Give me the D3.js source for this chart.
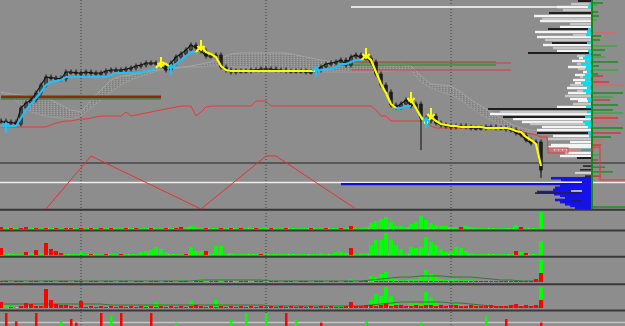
<!DOCTYPE html>
<html><head><meta charset="utf-8">
<script src="https://cdn.jsdelivr.net/npm/d3@7"></script>
<style>html,body{margin:0;padding:0;background:#8d8d8d;overflow:hidden}svg{display:block}</style>
</head><body><svg id="c" width="625" height="326"></svg>
<script>
// ---------------- DATA ----------------
const closes = [79,77,78,76,92,97,100,107,115,123,122,122,121,128,128,127,127,128,127,127,127,129,130,130,130,131,132,134,135,137,137,137,134,130,137,143,146,150,155,152,149,144,144,145,133,130,128,129,129,129,130,130,131,131,131,130,130,129,129,129,129,128,128,130,133,136,137,138,140,135,143,145,142,142,138,126,115,108,95,93,96,100,94,96,82,79,84,77,75,74,73,74,74,73,72,72,72,73,73,72,72,71,70,67,65,60,57,58,30];
const longWicks = [[84,50],[108,22]];
const N=null;
const trendUp = [74,74,74,74,82,90,96,102,108,115,118,119,120,123,123,123,123,123,123,123,123,123,125,127,127,127,127,127,127,129,130,132,N,N,132,136,140,144,148,148,N,N,N,N,N,N,N,N,N,N,N,N,N,N,N,N,N,N,N,N,N,N,N,129,130,131,131,133,136,136,138,140,140,N,N,N,N,N,N,92,92,94,94,N,83,76,N,N,N,N,N,N,N,N,N,N,N,N,N,N,N,N,N,N,N,N,N,N,N];
const trendDown = [N,N,N,N,N,N,N,N,N,N,N,N,N,N,N,N,N,N,N,N,N,N,N,N,N,N,N,N,N,N,N,132,138,136,132,N,N,N,N,148,154,148,146,143,134,130,129,129,129,129,129,129,129,129,129,129,129,129,129,129,129,129,129,129,N,N,N,N,N,N,N,N,140,144,140,128,116,107,96,92,N,N,100,92,83,76,83,79,76,75,74,74,73,73,73,73,73,72,72,72,72,72,71,69,68,63,60,56,34];
const stopLine = [73,73,73,73,73,73,73,73,73,73,75,77,78,79,79,80,81,81,82,83,84,84,84,84,84,88,84,85,86,87,88,89,90,91,92,93,94,94,94,84,88,93,94,94,94,94,94,94,94,94,94,99,99,99,94,94,94,94,94,94,94,94,94,94,94,94,94,94,94,94,94,94,94,94,94,90,84,84,79,79,79,79,79,79,79,79,74,72,72,72,72,72,72,72,72,72,72,72,72,72,72,72,71,70,69,67,66,65,63];
const stopTail = [[108,63],[109.2,63],[109.4,52]];
const boxRange = [109.4,113.4,47,52];
const boxTail = [[113.4,50],[118.4,50],[118.4,53],[119.8,53],[119.8,20],[125,20]];
// cloud: one value every 2 bars
const spanA = [108,106,105,104,102,100,95,90,88,100,110,120,124,125,127,129,131,132,133,134,136,138,142,146,147,147,147,147,147,146,144,142,140,138,137,137,136,136,136,135,136,134,124,116,115,114,108,100,94,88,82,76,72,70,69];
const spanB = [107,103,95,88,85,83,82,81,84,92,100,108,115,120,124,127,130,131,132,133,133,134,134,133,133,132,131,131,130,130,129,129,128,128,128,128,128,128,129,129,130,130,118,112,108,105,100,92,85,80,75,70,69,68,67];
const buyIdx = [1,34,63,85], buyPx = [77,135,133,82];
const sellIdx = [32,40,73,82,86], sellPx = [133,150,142,98,82];
const lvlPx   = [103,101,138,137,135,130,193];
const lvlFrom = [0,0,67,70,67,70,70];
const lvlTo   = [32,32,99,102,99,102,111.2];
const lvlKind = ['pivot','pivotBase','support','resistance','support','resistance','high'];
const gridIdx = [16,53,90];
// volume profile (price, volume)
const profWhite = [[193,34],[184,57],[179,51],[173,31],[168,56],[163,54],[155,48],[149,34],[142,12],[139,19],[133,23],[128,8],[125,16],[120,18],[117,16],[112,24],[107,23],[101,21],[99,13],[93,34],[86,101],[81,78],[78,69],[73,49],[70,54],[64,38],[58,21],[55,40],[53,43],[47,26],[44,31]];
const profSilver = [[196,20],[190,28],[181,49],[176,21],[165,18],[160,46],[152,38],[144,14],[136,14],[131,13],[123,11],[115,21],[109,14],[104,26],[96,18],[88,91],[76,61],[61,43],[50,38]];
const profBlack = [[199,13],[187,42],[171,43],[157,39],[147,63],[91,103],[83,88],[67,54],[42,14]];
const profCyan = [[196,2],[193,3],[171,3],[168,4],[165,5],[157,4],[149,3],[147,2],[144,6],[142,8],[139,6],[136,10],[133,5],[131,6],[128,4],[125,6],[123,8],[120,6],[117,10],[115,8],[112,4],[109,8],[107,5],[101,4],[99,3],[93,5],[88,4],[83,6],[78,8],[76,6],[73,3],[67,3],[64,2],[50,10]];
// lower profile (oscillator levels, volume)
const profBlue = [[58,40],[55,30],[43,31],[40,36],[36,38],[32,54],[28,37],[25,31],[21,26],[17,36],[13,31],[9,26],[6,21],[2,16]];
const profBlueDark = [[81,8],[74,11],[62,6],[30,56],[15,20]];
const profBlueWhite = [[68,16],[34,20]];
// right strip (price, delta)
const stripBuy = [[197,10],[195,4],[188,5],[184,6],[180,4],[164,8],[160,7],[154,24],[150,12],[145,8],[143,12],[138,25],[134,6],[130,25],[126,5],[107,30],[103,20],[95,25],[90,20],[87,30],[72,30],[63,18],[45,8]];
const stripSell = [[167,22],[124,10],[120,8],[118,16],[115,30],[100,17],[84,20],[82,25],[78,25],[67,28],[60,10],[55,8],[52,5],[40,5]];
// zigzag oscillator
const zzIdx = [9,18,40,53,55,71], zzVal = [0,100,0,100,100,0];
const oscMid = 50, oscBlue = [47,68,118], oscBuyLvl=[[79,12],[70,20]], oscSellLvl=[[62,8]];
const oscFloor = [4,118.2,125];
// histogram panels (positive = buy volume, negative = sell volume)
const hist1 = [-2,1,-1,1,-1,-2,1,-1,1,-1, 1,-1,1,-1,-1,1,-1,1,-1,1, -1,1,-1,1,1,-1,1,-1,1,1, -1,1,1,-1,1,-1,-2,2,3,2, 1,-1,1,1,-1,1,-1,1,-1,1, 1,-1,1,1,-1,1,1,-1,1,1, 1,1,-1,1,1,-1,1,1,-1,1, -3,1,1,2,6,8,10,12,7,3, 3,2,5,7,13,9,6,4,3,3, 2,2,-2,3,2,1,1,1,1,1, 1,1,1,4,-2,1,1,1,17];
const hist2 = [-7,2,2,1,1,-3,2,-5,2,-12, -6,-4,-2,1,1,1,3,1,-1,1, 1,-1,1,1,-1,1,1,1,3,4, 5,8,6,2,1,1,1,-1,8,4, 4,-4,1,9,9,1,2,1,1,1, 1,1,-1,1,1,1,1,1,1,1, 1,1,1,1,2,1,1,3,3,2, -7,1,2,2,10,15,15,22,15,10, 5,2,8,7,8,18,13,10,5,3, 3,8,7,4,2,1,1,1,1,1, 1,1,1,-4,3,-2,1,1,14];
const hist3Buy = [1,0,1,0,1,0,0,1,0,1, 0,1,0,1,0,1,0,1,0,1, 1,0,1,0,1,0,1,0,1,0, 1,1,0,1,0,1,2,0,1,1, 3,1,1,1,2,1,1,1,1,1, 1,1,1,1,1,1,1,1,1,1, 1,1,1,1,1,1,1,1,1,1, 3,1,1,2,6,5,8,10,5,3, 2,2,3,3,5,12,8,5,3,2, 3,3,2,2,2,1,1,1,1,1, 1,1,1,2,1,1,1,2,22];
const hist3Sell = [1,1,0,1,1,0,1,1,0,1, 1,0,1,1,0,1,1,0,1,1, 0,1,1,0,1,1,0,1,1,0, 1,1,0,1,1,0,1,1,0,1, 1,0,1,1,0,1,1,0,1,1, 0,1,1,0,1,1,0,1,1,0, 1,1,0,1,1,0,1,1,0,1, 1,0,1,1,0,1,1,1,1,1, 1,1,1,1,1,1,1,1,1,1, 1,1,1,1,1,1,1,1,1,1, 1,1,1,1,1,1,1,3,9];
const hist3Avg = [1,1,1,1,1,1,1,1,1,1,1,1,1,1,1,1,1,1,1,1,2,2,2,2,2,2,2,1,1,1,1,1,1,1,1,1,1,2,3,4,5,5,6,6,6,5,5,5,4,3,2,2,1,1,1];
const hist4Buy = [0,3,2,0,0,0,3,0,0,0, 0,0,0,0,0,0,2,1,0,1, 0,1,0,1,0,1,0,1,0,2, 3,6,4,1,1,1,1,1,7,2, 3,1,1,8,4,1,1,1,1,1, 1,1,1,1,1,1,1,1,1,1, 1,1,1,1,1,1,1,2,2,1, 1,1,2,3,8,14,12,21,12,6, 3,2,5,5,4,16,10,6,3,2, 2,5,3,2,1,1,1,1,1,1, 1,1,1,1,3,1,1,1,21];
const hist4Sell = [6,0,1,0,2,5,4,2,2,19, 8,4,3,3,2,1,7,1,2,1, 2,1,2,1,2,1,2,1,2,1, 2,1,2,1,2,1,2,1,2,3, 2,1,2,1,2,1,2,1,2,1, 2,1,2,1,2,1,2,1,2,1, 2,1,2,1,2,1,2,1,1,2, 6,2,2,3,3,2,3,5,2,3, 3,2,2,3,2,3,3,2,3,2, 3,3,2,2,3,2,2,2,3,2, 2,2,3,4,2,3,2,3,8];
const hist4Avg = [4,4,4,4,4,4,4,4,4,4,4,3,3,3,3,3,3,3,3,3,3,3,3,3,3,3,3,2,2,2,2,2,2,2,2,2,2,3,4,5,6,6,6,6,6,5,5,4,3,2,1,1,1,1,1];
const spikeSellIdx = [1,3,7,14,15,20,24,30,57,64,73,101,108], spikeSellVal = [10,3,10,5,2,10,10,10,10,2,2,5,2];
const spikeBuyIdx = [12,22,35,46,49,53,59,73,84,97], spikeBuyVal = [3,8,2,4,10,10,4,3,2,8];

// ---------------- SCALES ----------------
const svg = d3.select('#c');
const x = d3.scaleLinear().domain([0,108]).range([1,541]);
const yP = d3.scaleLinear().domain([38,200]).range([162,0]);
const xV = d3.scaleLinear().domain([0,100]).range([591,491]);
const xS = d3.scaleLinear().domain([0,33]).range([593,626]);
const yZ = d3.scaleLinear().domain([0,100]).range([209,156]);
const y1 = d3.scaleLinear().domain([0,18]).range([229,211]);
const y2 = d3.scaleLinear().domain([0,23]).range([255,232]);
const y3 = d3.scaleLinear().domain([0,24]).range([282,258]);
const y4 = d3.scaleLinear().domain([0,22]).range([308,286]);
const y5 = d3.scaleLinear().domain([0,12]).range([325,310.6]);

svg.append('rect').attr('width',625).attr('height',326).attr('fill','#8d8d8d');
const defs = svg.append('defs');
const pat = defs.append('pattern').attr('id','hatch').attr('patternUnits','userSpaceOnUse').attr('width',3).attr('height',2);
pat.append('rect').attr('width',1).attr('height',1).attr('fill','#a2a2a2');
pat.append('rect').attr('x',1).attr('y',1).attr('width',1).attr('height',1).attr('fill','#7e7e7e');

// grid verticals
svg.append('g').selectAll('line').data(gridIdx).join('line')
  .attr('x1',d=>x(d)).attr('x2',d=>x(d)).attr('y1',0).attr('y2',326)
  .attr('stroke','#3c3c3c').attr('stroke-width',1).attr('stroke-dasharray','1,2');

// separators
const seps=[[163,'#585858',2],[209.8,'#363636',2],[230.5,'#3a3a3a',2],[256.8,'#3a3a3a',2],[284.2,'#3a3a3a',2],[310.6,'#3a3a3a',2]];
svg.append('g').selectAll('line').data(seps).join('line')
  .attr('x1',0).attr('x2',625).attr('y1',d=>d[0]).attr('y2',d=>d[0]).attr('stroke',d=>d[1]).attr('stroke-width',d=>d[2]);

// ---------- oscillator panel ----------
const gz = svg.append('g');
gz.append('line').attr('x1',0).attr('x2',625).attr('y1',yZ(oscMid)).attr('y2',yZ(oscMid)).attr('stroke','#eeeeee').attr('stroke-width',1.5);
gz.append('line').attr('x1',x(oscBlue[1])).attr('x2',x(oscBlue[2])).attr('y1',yZ(oscBlue[0])).attr('y2',yZ(oscBlue[0])).attr('stroke','#1010e0').attr('stroke-width',2.2);
const rowsZ=(arr,col,h)=>gz.append('g').selectAll('rect').data(arr).join('rect')
  .attr('x',d=>xV(d[1])).attr('width',d=>xV(0)-xV(d[1])).attr('y',d=>yZ(d[0])-h/2).attr('height',h).attr('fill',col);
rowsZ(profBlue,'#1414e6',2.6);
rowsZ(profBlueDark,'#262626',1.6);
rowsZ(profBlueWhite,'#f0f0f0',1.4);
gz.append('rect').attr('x',xV(9)).attr('width',xV(0)-xV(9)).attr('y',yZ(60)).attr('height',yZ(0)-yZ(60)).attr('fill','#1414e6');
gz.append('path').datum(zzIdx.map((d,i)=>[d,zzVal[i]]))
  .attr('d',d3.line().x(d=>x(d[0])).y(d=>yZ(d[1]))).attr('fill','none').attr('stroke','#e83030').attr('stroke-width',1);
gz.selectAll('.ob').data(oscBuyLvl).join('rect').attr('x',xS(0)).attr('width',d=>xS(d[1])-xS(0)).attr('y',d=>yZ(d[0])-0.7).attr('height',1.4).attr('fill','#1f8f1f');
gz.selectAll('.os').data(oscSellLvl).join('rect').attr('x',xS(0)).attr('width',d=>xS(d[1])-xS(0)).attr('y',d=>yZ(d[0])-0.7).attr('height',1.4).attr('fill','#cc3333');
gz.append('line').attr('x1',x(oscFloor[1])).attr('x2',x(oscFloor[2])).attr('y1',yZ(oscFloor[0])).attr('y2',yZ(oscFloor[0])).attr('stroke','#1f8f1f').attr('stroke-width',1.5);

// ---------- histogram panels ----------
function baseline(ys){
  svg.append('line').attr('x1',0).attr('x2',541).attr('y1',ys(0)-0.5).attr('y2',ys(0)-0.5)
    .attr('stroke','#b8b8b8').attr('stroke-width',1).attr('stroke-dasharray','2,2');
}
function signedBars(arr,ys){
  baseline(ys);
  svg.append('g').selectAll('rect').data(arr).join('rect')
    .attr('x',(d,i)=>x(i)-2).attr('width',4)
    .attr('y',d=>ys(Math.abs(d))).attr('height',d=>ys(0)-ys(Math.abs(d)))
    .attr('fill',d=>d<0?'#ff0000':'#00ff00');
}
function dualBars(buy,sell,avg,ys){
  baseline(ys);
  svg.append('g').selectAll('rect').data(buy).join('rect')
    .attr('x',(d,i)=>x(i)-2).attr('width',4)
    .attr('y',d=>ys(d)).attr('height',d=>ys(0)-ys(d)).attr('fill','#00ff00');
  svg.append('path').datum(avg).attr('d',d3.line().x((d,i)=>x(i*2)).y(d=>ys(d)))
    .attr('fill','none').attr('stroke','#2f7a2f').attr('stroke-width',1);
  svg.append('g').selectAll('rect').data(sell).join('rect')
    .attr('x',(d,i)=>x(i)-2).attr('width',4)
    .attr('y',d=>ys(d)).attr('height',d=>ys(0)-ys(d)).attr('fill','#ff0000');
}
signedBars(hist1,y1);
signedBars(hist2,y2);
dualBars(hist3Buy,hist3Sell,hist3Avg,y3);
dualBars(hist4Buy,hist4Sell,hist4Avg,y4);
svg.append('line').attr('x1',0).attr('x2',625).attr('y1',y5(2)).attr('y2',y5(2)).attr('stroke','#c4c4c4').attr('stroke-width',1.5);
svg.append('g').selectAll('rect').data(spikeSellIdx).join('rect')
  .attr('x',d=>x(d)-1).attr('width',2.5).attr('y',(d,i)=>y5(spikeSellVal[i])).attr('height',(d,i)=>y5(0)-y5(spikeSellVal[i])+1).attr('fill','#ff0000');
svg.append('g').selectAll('rect').data(spikeBuyIdx).join('rect')
  .attr('x',d=>x(d)-1).attr('width',2.5).attr('y',(d,i)=>y5(spikeBuyVal[i])).attr('height',(d,i)=>y5(0)-y5(spikeBuyVal[i])+1).attr('fill','#00ff00');

// ---------- main chart ----------
const gm = svg.append('g');
const cloud = spanA.map((a,i)=>({i:i*2,a,b:spanB[i]}));
gm.append('path').datum(cloud).attr('d',d3.area().x(d=>x(d.i)).y0(d=>yP(d.a)).y1(d=>yP(d.b))).attr('fill','url(#hatch)');
gm.append('path').datum(cloud).attr('d',d3.line().x(d=>x(d.i)).y(d=>yP(d.a))).attr('fill','none').attr('stroke','#a4a4a4').attr('stroke-width',1);
gm.append('path').datum(cloud).attr('d',d3.line().x(d=>x(d.i)).y(d=>yP(d.b))).attr('fill','none').attr('stroke','#9c9c9c').attr('stroke-width',1);

// volume profile
const rowsP=(arr,col,h)=>gm.append('g').selectAll('rect').data(arr).join('rect')
  .attr('x',d=>xV(d[1])).attr('width',d=>xV(0)-xV(d[1])).attr('y',d=>yP(d[0])-h/2).attr('height',h).attr('fill',col);
rowsP(profWhite,'#f4f4f4',2.4);
rowsP(profSilver,'#c6c6c6',2.4);
rowsP(profBlack,'#1e1e1e',2);
rowsP(profCyan,'#00e0f0',2.4);
// right strip
gm.append('line').attr('x1',xS(0)-1).attr('x2',xS(0)-1).attr('y1',0).attr('y2',209).attr('stroke','#138a13').attr('stroke-width',2);
gm.append('g').selectAll('rect').data(stripBuy).join('rect')
  .attr('x',xS(0)).attr('width',d=>xS(d[1])-xS(0)).attr('y',d=>yP(d[0])-0.8).attr('height',1.6).attr('fill',(d,i)=>i%3===1?'#4aa04a':'#1f8f1f');
gm.append('g').selectAll('rect').data(stripSell).join('rect')
  .attr('x',xS(0)).attr('width',d=>xS(d[1])-xS(0)).attr('y',d=>yP(d[0])-0.8).attr('height',1.6).attr('fill',(d,i)=>i%2?'#c84040':'#d06a6a');

// levels
const lvlStyle={pivot:['#8a2c0c',3],pivotBase:['#2e8b57',1.5],support:['#1e8e1e',1.2],resistance:['#d04040',1.2],high:['#ffffff',1.6]};
gm.append('g').selectAll('line').data(lvlPx).join('line')
  .attr('x1',(d,i)=>x(lvlFrom[i])).attr('x2',(d,i)=>x(lvlTo[i]))
  .attr('y1',d=>yP(d)).attr('y2',d=>yP(d))
  .attr('stroke',(d,i)=>lvlStyle[lvlKind[i]][0]).attr('stroke-width',(d,i)=>lvlStyle[lvlKind[i]][1]);

// stop line
const lineP = d3.line().defined(d=>d[1]!=null).x(d=>x(d[0])).y(d=>yP(d[1]));
gm.append('path').datum(stopLine.map((v,i)=>[i,v]).concat(stopTail)).attr('d',lineP).attr('fill','none').attr('stroke','#e83a3a').attr('stroke-width',1);
gm.append('rect').attr('x',x(boxRange[0])).attr('width',x(boxRange[1])-x(boxRange[0])).attr('y',yP(boxRange[3])).attr('height',yP(boxRange[2])-yP(boxRange[3]))
  .attr('fill','none').attr('stroke','#e83a3a').attr('stroke-width',1);
gm.append('line').attr('x1',x(boxRange[0])+3).attr('x2',x(boxRange[1])-2).attr('y1',yP((boxRange[2]+boxRange[3])/2)).attr('y2',yP((boxRange[2]+boxRange[3])/2))
  .attr('stroke','#e86a6a').attr('stroke-width',2).attr('stroke-dasharray','3,1');
gm.append('path').datum(boxTail).attr('d',lineP).attr('fill','none').attr('stroke','#e83a3a').attr('stroke-width',1.2);

// candles
const cg = gm.append('g');
gm.append('path').datum(closes.map((v,i)=>[i,v])).attr('d',lineP).attr('fill','none').attr('stroke','#141414').attr('stroke-width',1.2);
closes.forEach((c,i)=>{
  const o = i>0?closes[i-1]:c;
  const hi = Math.max(o,c), lo = Math.min(o,c);
  cg.append('line').attr('x1',x(i)).attr('x2',x(i)).attr('y1',yP(hi)-2.5).attr('y2',yP(lo)+2.5).attr('stroke','#111').attr('stroke-width',1);
  cg.append('rect').attr('x',x(i)-1.5).attr('width',3).attr('y',yP(hi)).attr('height',Math.max(1.5,yP(lo)-yP(hi)))
    .attr('fill',c>=o?'#4a4a4a':'#1c1c1c').attr('stroke','#111').attr('stroke-width',0.5);
});
cg.selectAll('.lw').data(longWicks).join('line').attr('x1',d=>x(d[0])).attr('x2',d=>x(d[0]))
  .attr('y1',d=>yP(closes[d[0]])).attr('y2',d=>yP(d[1])).attr('stroke','#222').attr('stroke-width',1.2);

// trend lines
gm.append('path').datum(trendUp.map((v,i)=>[i,v])).attr('d',lineP).attr('fill','none').attr('stroke','#1ec0ff').attr('stroke-width',2.2);
gm.append('path').datum(trendDown.map((v,i)=>[i,v])).attr('d',lineP).attr('fill','none').attr('stroke','#ffff00').attr('stroke-width',2.2);

// signals
gm.append('g').selectAll('path').data(buyIdx).join('path')
  .attr('d',(d,i)=>{const X=x(d),Y=yP(buyPx[i]);return `M${X-3.5},${Y+4}L${X},${Y}L${X+3.5},${Y+4}M${X},${Y}L${X},${Y+10}`;})
  .attr('fill','none').attr('stroke','#1ec0ff').attr('stroke-width',2);
gm.append('g').selectAll('path').data(sellIdx).join('path')
  .attr('d',(d,i)=>{const X=x(d),Y=yP(sellPx[i]);return `M${X-3.5},${Y-4}L${X},${Y}L${X+3.5},${Y-4}M${X},${Y}L${X},${Y-10}`;})
  .attr('fill','none').attr('stroke','#ffff00').attr('stroke-width',2);
</script>
</body></html>
